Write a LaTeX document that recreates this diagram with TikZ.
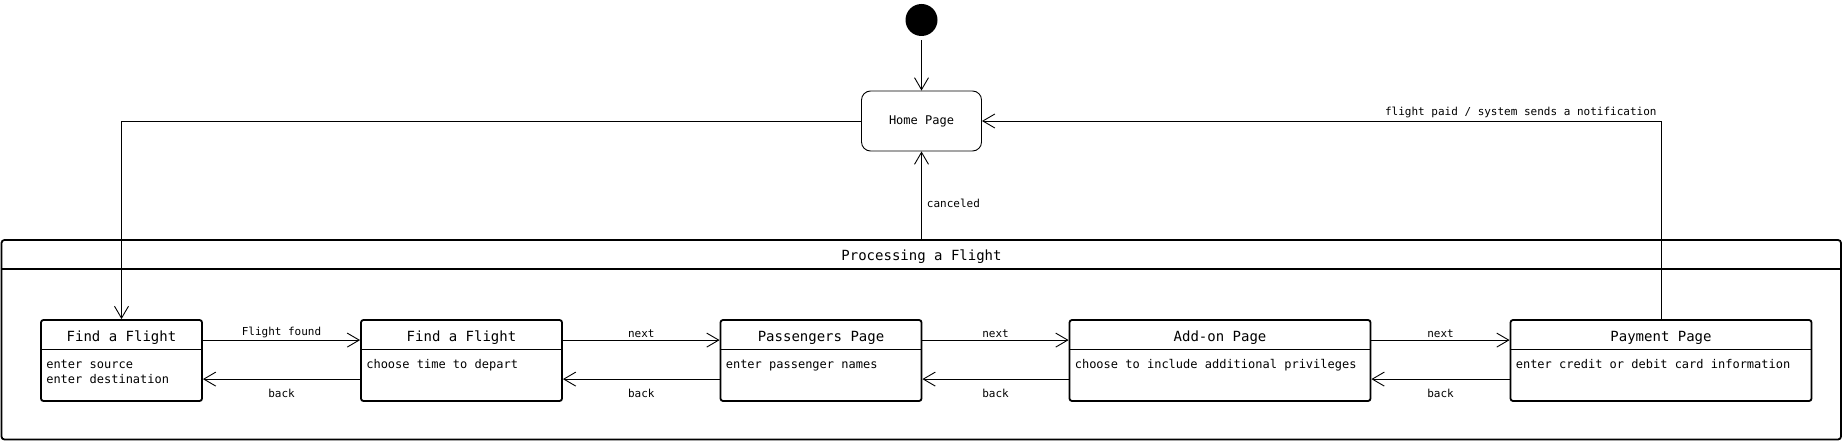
\documentclass[tikz,border=0pt]{standalone}
\usepackage{fontspec}
\setmonofont{DejaVu Sans Mono}
\usetikzlibrary{arrows.meta,calc}
\begin{document}
\begin{tikzpicture}[x=1pt,y=-1pt,
  conn/.style={line width=0.9pt, -{Straight Barb[length=12pt,width=14pt]}},
  plain/.style={line width=0.9pt},
  lbl/.style={font=\ttfamily\fontsize{11}{13}\selectfont, inner sep=2pt},
  startst/.style={circle, fill=black, minimum size=32pt, inner sep=0pt},
  homest/.style={draw, rounded corners=9pt, line width=0.9pt, minimum width=120pt, minimum height=60pt, font=\ttfamily\fontsize{12}{14}\selectfont},
  contst/.style={draw, rounded corners=3pt, line width=1.8pt, minimum width=1839.5pt, minimum height=199.5pt, inner sep=0pt},
  ctitle/.style={font=\ttfamily\fontsize{14}{16}\selectfont, inner sep=0pt},
  stbox/.style={draw, rounded corners=2.5pt, line width=1.8pt, minimum height=81pt, inner sep=0pt},
  sttitle/.style={font=\ttfamily\fontsize{14}{16}\selectfont, inner sep=0pt},
  sep/.style={line width=1.6pt},
  stbody/.style={font=\ttfamily\fontsize{12}{15}\selectfont, inner sep=0pt, anchor=north west, align=left}
]
\path[use as bounding box] (0,0) rectangle (1843,441);

% initial state and home
\node[startst] (start) at (921.5,20) {};
\node[homest] (home) at (921.5,121) {Home Page};

% composite state
\node[contst] (proc) at (921.25,339.75) {};
\node[ctitle] (proct) at (921.5,256.5) {Processing a Flight};
\draw[sep] ([yshift=-30pt]proc.north west) -- ([yshift=-30pt]proc.north east);

% states
\node[stbox, minimum width=161pt] (b1) at (121.5,360.5) {};
\node[sttitle] (b1t) at ([yshift=-19pt]b1.north) {Find a Flight};
\draw[sep] ([yshift=-30.5pt]b1.north west) -- ([yshift=-30.5pt]b1.north east);
\node[stbody] (b1b) at ([xshift=6pt,yshift=-40.5pt]b1.north west) {enter source\\enter destination};

\node[stbox, minimum width=201pt] (b2) at (461.5,360.5) {};
\node[sttitle] (b2t) at ([yshift=-19pt]b2.north) {Find a Flight};
\draw[sep] ([yshift=-30.5pt]b2.north west) -- ([yshift=-30.5pt]b2.north east);
\node[stbody] (b2b) at ([xshift=6pt,yshift=-40.5pt]b2.north west) {choose time to depart};

\node[stbox, minimum width=201pt] (b3) at (821,360.5) {};
\node[sttitle] (b3t) at ([yshift=-19pt]b3.north) {Passengers Page};
\draw[sep] ([yshift=-30.5pt]b3.north west) -- ([yshift=-30.5pt]b3.north east);
\node[stbody] (b3b) at ([xshift=6pt,yshift=-40.5pt]b3.north west) {enter passenger names};

\node[stbox, minimum width=301pt] (b4) at (1220,360.5) {};
\node[sttitle] (b4t) at ([yshift=-19pt]b4.north) {Add-on Page};
\draw[sep] ([yshift=-30.5pt]b4.north west) -- ([yshift=-30.5pt]b4.north east);
\node[stbody] (b4b) at ([xshift=6pt,yshift=-40.5pt]b4.north west) {choose to include additional privileges};

\node[stbox, minimum width=301pt] (b5) at (1661,360.5) {};
\node[sttitle] (b5t) at ([yshift=-19pt]b5.north) {Payment Page};
\draw[sep] ([yshift=-30.5pt]b5.north west) -- ([yshift=-30.5pt]b5.north east);
\node[stbody] (b5b) at ([xshift=6pt,yshift=-40.5pt]b5.north west) {enter credit or debit card information};

% connectors
\draw[conn, shorten <=4pt] (start) -- (home);
\draw[conn] (proc.north -| home) -- (home.south)
  node[lbl, pos=0.41, anchor=west, xshift=3pt] {canceled};
\draw[conn] (home.west) -| (b1.north);
\draw[conn] (b5.north) |- (home.east)
  node[lbl, pos=0.5, anchor=south east, inner sep=0pt, xshift=-4pt, yshift=3pt] {flight paid / system sends a notification};

\foreach \a/\b/\t in {b1/b2/Flight found, b2/b3/next, b3/b4/next, b4/b5/next}{
  \draw[conn] ([yshift=-21pt]\a.north east) -- ([yshift=-21pt]\b.north west)
    node[lbl, midway, above, yshift=0pt] {\t};
  \draw[conn] ([yshift=-60pt]\b.north west) -- ([yshift=-60pt]\a.north east)
    node[lbl, midway, below, yshift=-7.5pt] {back};
}
\end{tikzpicture}
\end{document}
